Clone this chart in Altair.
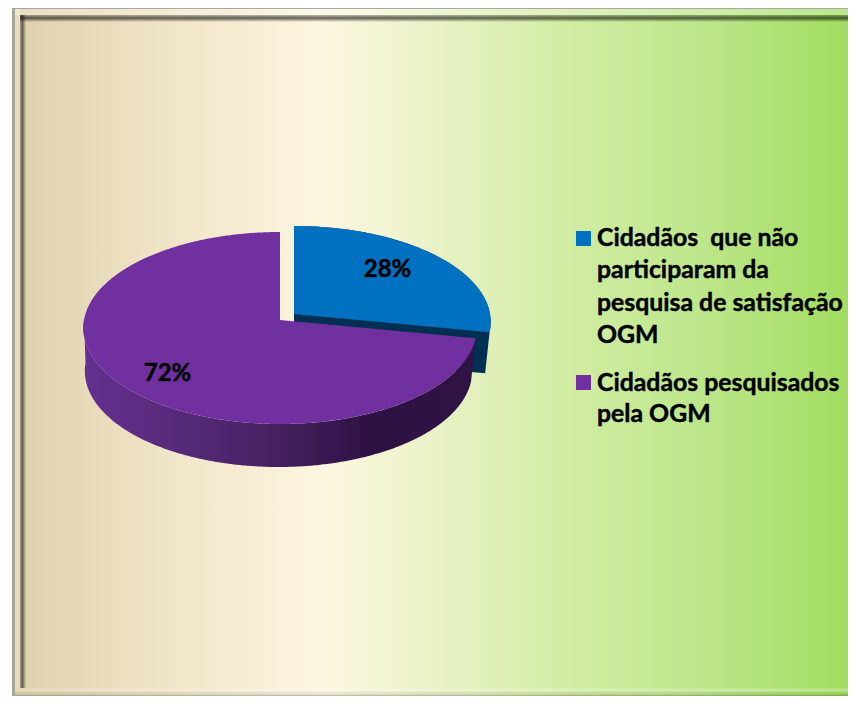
import numpy as np
import altair as alt

# ---- data
categories = ["Cidadãos\u00a0 que não\nparticiparam da\npesquisa de satisfação\nOGM", "Cidadãos pesquisados\npela OGM"]
values = [28, 72]
labels = ["28%", "72%"]
colors = ["#0070c0", "#7030a0"]
dark_blue = "#002f52"

W, H = 840, 688
LEFT = 4  # frame starts 4 px inside the chart


def project(deg, ax, ay, rx, yscale=95.33, k=1 / 12):
    a = np.radians(deg)
    u, v = np.cos(a), np.sin(a)
    d = 1 + k * v
    return ax + rx * u / d, ay - yscale * v / d


def arc(a0, a1, ax, ay, rx):
    n = max(int(abs(a1 - a0) * 2), 2)
    xs, ys = project(np.linspace(a0, a1, n), ax, ay, rx)
    return [[float(x), float(y)] for x, y in zip(xs, ys)]


def feature(ring):
    ring = ring + [ring[0]]
    return {"type": "Feature", "properties": {}, "geometry": {"type": "Polygon", "coordinates": [ring]}}


def shape(ring, fill):
    return alt.Chart(alt.Data(values=[feature(ring)])).mark_geoshape(fill=fill, stroke="transparent", strokeWidth=0).project(
        type="identity", scale=1, translate=[0, 0]
    )


start = 90.0
end_blue = start - 360 * values[0] / sum(values)
end_purple = end_blue - 360 * values[1] / sum(values)

AX, AY = 272, 312          # apex of the large slice
BX, BY = AX + 14, AY - 6   # apex of the exploded slice
R, R2 = 196, 193
D = 43                     # thickness

# blue slice
blue_top = [[BX, BY]] + arc(start, end_blue, BX, BY, R)
blue_side = [[BX, BY]] + arc(start, end_blue, BX, BY, R) + [[BX + 191.5 * 0.998, project(end_blue, BX, BY + 41, 191.5)[1]], [BX, BY + 42]]

# purple slice
purple_top = [[AX, AY]] + arc(end_blue, end_purple, AX, AY, R)
outer = arc(end_blue, -180, AX, AY, R)
inner = arc(-180, end_blue, AX - 1.5, AY + D, R2)
purple_side = outer + inner

side_grad = alt.LinearGradient(
    gradient="linear", x1=0, x2=1, y1=0, y2=0,
    stops=[
        alt.GradientStop(color="#63308f", offset=0),
        alt.GradientStop(color="#562a7a", offset=0.25),
        alt.GradientStop(color="#45205f", offset=0.5),
        alt.GradientStop(color="#2f1244", offset=0.73),
        alt.GradientStop(color="#2f1344", offset=1),
    ],
)

bg_grad = alt.LinearGradient(
    gradient="linear", x1=0, x2=1, y1=0, y2=0,
    stops=[
        alt.GradientStop(color="#ddd0ab", offset=0),
        alt.GradientStop(color="#ecdfc0", offset=0.13),
        alt.GradientStop(color="#fdf6e0", offset=0.374),
        alt.GradientStop(color="#ecf3cb", offset=0.485),
        alt.GradientStop(color="#d3eda5", offset=0.656),
        alt.GradientStop(color="#bce68a", offset=0.828),
        alt.GradientStop(color="#a2dd60", offset=1),
    ],
)

one = alt.Data(values=[{"a": 1}])


def rect(x0, x1, y0, y1, **kw):
    return alt.Chart(one).mark_rect(**kw).encode(
        x=alt.value(x0), x2=alt.value(x1), y=alt.value(y0), y2=alt.value(y1)
    )


def vgrad(*stops):
    return alt.LinearGradient(gradient="linear", x1=0, x2=0, y1=0, y2=1,
                              stops=[alt.GradientStop(color=c, offset=o) for c, o in stops])


def hgrad(*stops):
    return alt.LinearGradient(gradient="linear", x1=0, x2=1, y1=0, y2=0,
                              stops=[alt.GradientStop(color=c, offset=o) for c, o in stops])


def text(s, x, y, **kw):
    return alt.Chart(alt.Data(values=[{"t": s}])).mark_text(
        font="Lato", fontWeight="bold", color="black", stroke="black", strokeWidth=0.45, lineBreak="\n", **kw
    ).encode(text="t:N", x=alt.value(x), y=alt.value(y))


layers = [
    rect(LEFT, W, 0, H, fill=bg_grad),
    # frame
    rect(LEFT + 3, W, 1, 7, fill="#ffffff", fillOpacity=0.28),
    rect(LEFT + 8, W, 7, 14, fill=vgrad(("rgba(0,0,0,0.25)", 0), ("rgba(0,0,0,0.6)", 0.45), ("rgba(0,0,0,0)", 1))),
    rect(LEFT + 3, LEFT + 8, 1, H - 8, fill="#ffffff", fillOpacity=0.28),
    rect(LEFT + 8, LEFT + 14, 7, H - 8, fill=hgrad(("rgba(0,0,0,0.25)", 0), ("rgba(0,0,0,0.55)", 0.4), ("rgba(0,0,0,0)", 1))),
    rect(LEFT, W, 0, 1, fill="#aaa89e"),
    rect(LEFT, LEFT + 3, 0, H, fill="#a8a69c"),
    rect(LEFT + 3, W, H - 8, H, fill=vgrad(("rgba(255,255,255,0.12)", 0), ("rgba(255,255,255,0.3)", 0.4),
                                            ("rgba(0,0,0,0.02)", 0.65), ("rgba(0,0,0,0.25)", 1))),
    # pie
    shape(blue_side, dark_blue),
    shape(blue_top, colors[0]),
    shape(purple_side, side_grad),
    shape(purple_top, colors[1]),
    text(labels[0], 379.5, 262, fontSize=24, align="center", baseline="middle"),
    text(labels[1], 159.5, 366, fontSize=24, align="center", baseline="middle"),
    # legend
    rect(568, 583, 223, 238, fill=colors[0]),
    rect(568, 583, 367, 382, fill=colors[1]),
    text(categories[0], 589, 231, fontSize=24.8, lineHeight=32.4, align="left", baseline="middle"),
    text(categories[1], 589, 376, fontSize=24.8, lineHeight=31, align="left", baseline="middle"),
]

chart = alt.layer(*layers).properties(
    width=W, height=H, padding=0, autosize=alt.AutoSizeParams(type="none"), background="white"
).configure_view(stroke=None)

chart.save("out.html", embed_options={"renderer": "svg", "actions": False})
